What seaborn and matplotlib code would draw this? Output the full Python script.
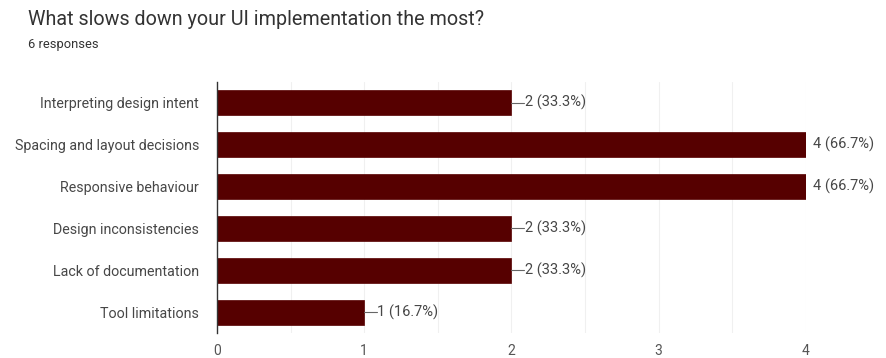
import matplotlib
matplotlib.use("Agg")
import matplotlib.pyplot as plt
import seaborn as sns
import pandas as pd

categories = ["Interpreting design intent", "Spacing and layout decisions", "Responsive behaviour",
              "Design inconsistencies", "Lack of documentation", "Tool limitations"]
counts = [2, 4, 4, 2, 2, 1]
percents = ["33.3%", "66.7%", "66.7%", "33.3%", "33.3%", "16.7%"]
xticks = [0, 1, 2, 3, 4]
title = "What slows down your UI implementation the most?"
subtitle = "6 responses"

sns.set_theme(style="white")
plt.rcParams['font.family'] = ['Roboto', 'DejaVu Sans']

df = pd.DataFrame({"cat": categories, "n": counts})

fig = plt.figure(figsize=(8.87, 3.58), dpi=100)
ax = fig.add_axes([0.2446, 0.0698, 0.664, 0.702])
sns.barplot(data=df, x="n", y="cat", color="#560000", saturation=1, width=0.6, ax=ax,
            edgecolor="#560000", linewidth=0.5)

ax.set_xlim(0, 4)
ax.set_ylim(len(categories) - 0.5, -0.5)
ax.set_xticks(xticks)
ax.set_xticklabels([str(t) for t in xticks], color="#555555", fontsize=10)
for v in [0.5, 1, 1.5, 2, 2.5, 3, 3.5, 4]:
    ax.axvline(v, color="#f0f0f0", lw=0.8, zorder=0)
ax.set_xlabel("")
ax.set_ylabel("")
ax.tick_params(axis="y", labelsize=10.3, colors="#474747", length=0, pad=13)
ax.tick_params(axis="x", length=0, pad=8)
for s in ["top", "right", "bottom"]:
    ax.spines[s].set_visible(False)
ax.spines["left"].set_color("#333333")
ax.spines["left"].set_linewidth(1)
ax.spines["left"].set_zorder(5)

for i, (n, p) in enumerate(zip(counts, percents)):
    label = f"{n} ({p})"
    if n >= 4:
        ax.text(n + 0.048, i, label, va="center", ha="left", fontsize=10.5, color="#474747", clip_on=False)
    else:
        ax.plot([n, n + 0.085], [i, i], color="#666666", lw=0.8)
        ax.text(n + 0.09, i, label, va="center", ha="left", fontsize=10.5, color="#474747")

fig.text(0.0316, 0.945, title, fontsize=14.2, color="#333333", va="center")
fig.text(0.0316, 0.875, subtitle, fontsize=9.3, color="#333333", va="center")

fig.savefig("out.png", dpi=100, facecolor="white")
